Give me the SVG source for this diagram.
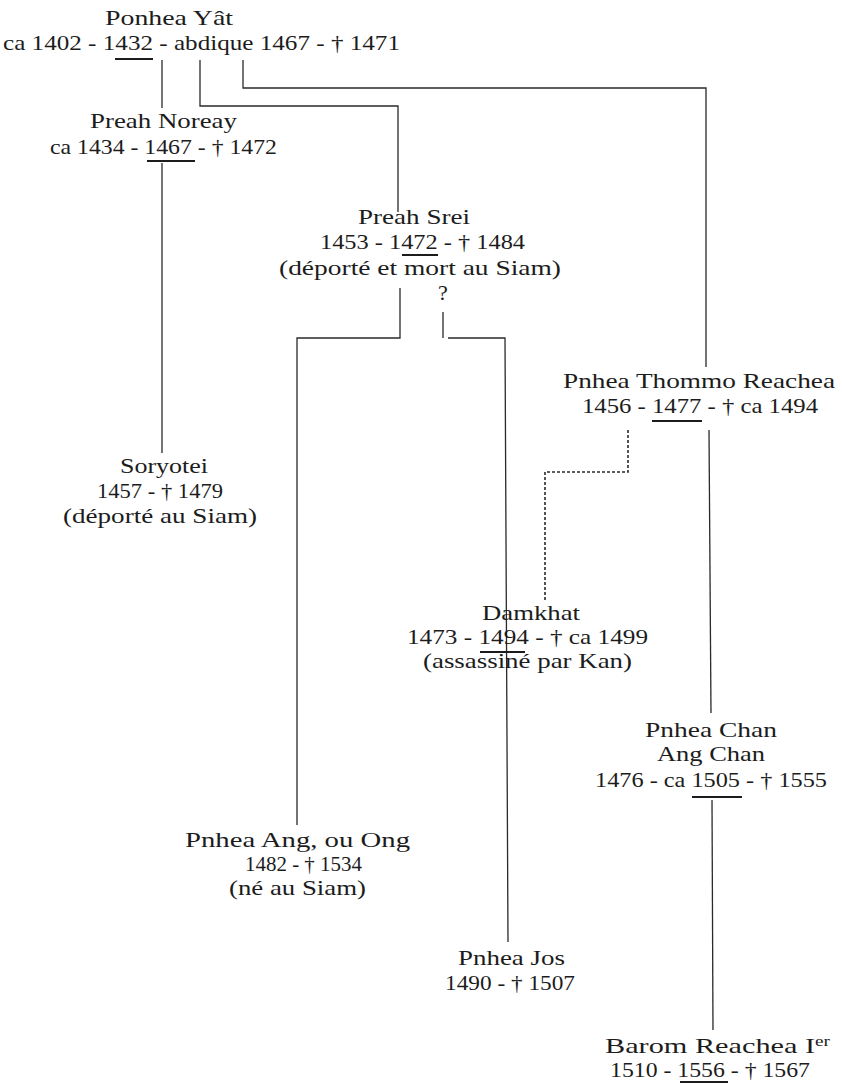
<svg xmlns="http://www.w3.org/2000/svg" width="842" height="1084" viewBox="0 0 842 1084">
<style>
.t{font-family:"Liberation Serif","Times New Roman",serif;font-size:22px;fill:#1c1c1c}
.u{stroke:#1c1c1c;stroke-width:1.8;fill:none}
.c{stroke:#2a2a2a;stroke-width:1.3;fill:none}
.d{stroke:#2a2a2a;stroke-width:1.6;fill:none;stroke-dasharray:3 2}
</style>
<rect width="842" height="1084" fill="#ffffff"/>
<g id="connectors">
<path class="c" d="M162 60V108"/>
<path class="c" d="M200 60V106H398V212"/>
<path class="c" d="M243 60V88H706V367"/>
<path class="c" d="M162 163V453"/>
<path class="c" d="M400 288V338H297V825"/>
<path class="c" d="M443 312V338M448 338H505L508 942"/>
<path class="c" d="M709 430L711 713"/>
<path class="c" d="M712 800L713 1030"/>
<path class="d" d="M628 430V472H545V602"/>
</g>
<g id="ponhea-yat">
<text class="t" x="105" y="25" textLength="128" lengthAdjust="spacingAndGlyphs">Ponhea Yât</text>
<text class="t" x="3" y="50" textLength="397" lengthAdjust="spacingAndGlyphs">ca 1402 - 1432 - abdique 1467 - † 1471</text>
<path class="u" d="M115 59H153"/>
</g>
<g id="preah-noreay">
<text class="t" x="90" y="128" textLength="147" lengthAdjust="spacingAndGlyphs">Preah Noreay</text>
<text class="t" x="50" y="154" textLength="227" lengthAdjust="spacingAndGlyphs">ca 1434 - 1467 - † 1472</text>
<path class="u" d="M147 161H195"/>
</g>
<g id="preah-srei">
<text class="t" x="358" y="224" textLength="112" lengthAdjust="spacingAndGlyphs">Preah Srei</text>
<text class="t" x="320" y="249" textLength="205" lengthAdjust="spacingAndGlyphs">1453 - 1472 - † 1484</text>
<path class="u" d="M402 255H438"/>
<text class="t" x="279" y="275" textLength="282" lengthAdjust="spacingAndGlyphs">(déporté et mort au Siam)</text>
<text class="t" x="443" y="300" text-anchor="middle">?</text>
</g>
<g id="soryotei">
<text class="t" x="120" y="473" textLength="88" lengthAdjust="spacingAndGlyphs">Soryotei</text>
<text class="t" x="97" y="498" textLength="126" lengthAdjust="spacingAndGlyphs">1457 - † 1479</text>
<text class="t" x="63" y="523" textLength="194" lengthAdjust="spacingAndGlyphs">(déporté au Siam)</text>
</g>
<g id="thommo-reachea">
<text class="t" x="563" y="388" textLength="272" lengthAdjust="spacingAndGlyphs">Pnhea Thommo Reachea</text>
<text class="t" x="582" y="413" textLength="236" lengthAdjust="spacingAndGlyphs">1456 - 1477 - † ca 1494</text>
<path class="u" d="M652 421H702"/>
</g>
<g id="damkhat">
<text class="t" x="482" y="620" textLength="98" lengthAdjust="spacingAndGlyphs">Damkhat</text>
<text class="t" x="407" y="644" textLength="241" lengthAdjust="spacingAndGlyphs">1473 - 1494 - † ca 1499</text>
<path class="u" d="M480 652H525"/>
<text class="t" x="423" y="668" textLength="209" lengthAdjust="spacingAndGlyphs">(assassiné par Kan)</text>
</g>
<g id="pnhea-chan">
<text class="t" x="645" y="737" textLength="132" lengthAdjust="spacingAndGlyphs">Pnhea Chan</text>
<text class="t" x="657" y="761" textLength="108" lengthAdjust="spacingAndGlyphs">Ang Chan</text>
<text class="t" x="595" y="787" textLength="232" lengthAdjust="spacingAndGlyphs">1476 - ca 1505 - † 1555</text>
<path class="u" d="M692 797H742"/>
</g>
<g id="pnhea-ang">
<text class="t" x="185" y="847" textLength="225" lengthAdjust="spacingAndGlyphs">Pnhea Ang, ou Ong</text>
<text class="t" x="245" y="871" textLength="117" lengthAdjust="spacingAndGlyphs">1482 - † 1534</text>
<text class="t" x="229" y="895" textLength="137" lengthAdjust="spacingAndGlyphs">(né au Siam)</text>
</g>
<g id="pnhea-jos">
<text class="t" x="458" y="965" textLength="107" lengthAdjust="spacingAndGlyphs">Pnhea Jos</text>
<text class="t" x="445" y="990" textLength="130" lengthAdjust="spacingAndGlyphs">1490 - † 1507</text>
</g>
<g id="barom-reachea">
<text class="t" x="605" y="1053" textLength="225" lengthAdjust="spacingAndGlyphs">Barom Reachea I<tspan font-size="14" dy="-7">er</tspan></text>
<text class="t" x="610" y="1077" textLength="200" lengthAdjust="spacingAndGlyphs">1510 - 1556 - † 1567</text>
<path class="u" d="M680 1082H728"/>
</g>
</svg>
